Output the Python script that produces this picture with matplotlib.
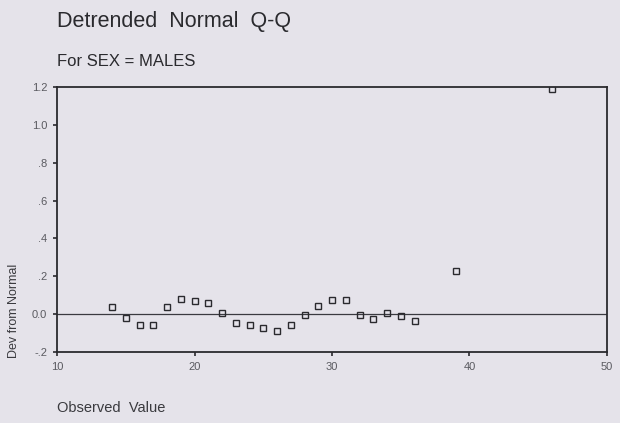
import matplotlib
matplotlib.use('Agg')
import matplotlib.pyplot as plt
import numpy as np

# observed values and their deviation from the normal line
observed = [14, 15, 16, 17, 18, 19, 20, 21, 22, 23, 24, 25, 26, 27, 28,
            29, 30, 31, 32, 33, 34, 35, 36, 39, 46]
dev_from_normal = [0.035, -0.02, -0.06, -0.06, 0.035, 0.078, 0.07, 0.06, 0.004,
                   -0.046, -0.06, -0.072, -0.088, -0.06, -0.005, 0.042, 0.074,
                   0.074, -0.007, -0.028, 0.007, -0.01, -0.035, 0.229, 1.19]

x_ticks = [10, 20, 30, 40, 50]
y_ticks = [-0.2, 0.0, 0.2, 0.4, 0.6, 0.8, 1.0, 1.2]
y_tick_labels = ['-.2', '0.0', '.2', '.4', '.6', '.8', '1.0', '1.2']

plt.rcParams['font.family'] = ['Liberation Sans', 'DejaVu Sans']
bg = '#e5e3ea'
ink = '#2a2a2e'

fig = plt.figure(figsize=(6.2, 4.23), dpi=100, facecolor=bg)
ax = fig.add_axes([0.092, 0.168, 0.887, 0.626], facecolor=bg)

ax.axhline(0.0, color='#3a3a40', linewidth=0.9, zorder=1)
ax.plot(observed, dev_from_normal, linestyle='none', marker='s', markersize=4.3,
        markerfacecolor='none', markeredgecolor=ink, markeredgewidth=1.0, zorder=3)

ax.set_xlim(10, 50)
ax.set_ylim(-0.2, 1.2)
ax.set_xticks(x_ticks)
ax.set_yticks(y_ticks)
ax.set_yticklabels(y_tick_labels)
ax.tick_params(direction='out', length=3, width=1.2, colors=ink,
               labelsize=8, labelcolor='#5a5a60', pad=4)

for side in ['left', 'right', 'top', 'bottom']:
    ax.spines[side].set_color(ink)
    ax.spines[side].set_linewidth(1.3)

fig.text(0.092, 0.948, 'Detrended  Normal  Q-Q', fontsize=15.5, color='#2a2a2e',
         ha='left', va='center')
fig.text(0.092, 0.855, 'For SEX = MALES', fontsize=12, color='#2a2a2e',
         ha='left', va='center')
fig.text(0.023, 0.265, 'Dev from Normal', fontsize=9, color='#3a3a3e',
         rotation=90, ha='center', va='center')
fig.text(0.092, 0.035, 'Observed  Value', fontsize=10.5, color='#3a3a3e',
         ha='left', va='center')

plt.savefig('out.png', dpi=100, facecolor=bg)
plt.close()
